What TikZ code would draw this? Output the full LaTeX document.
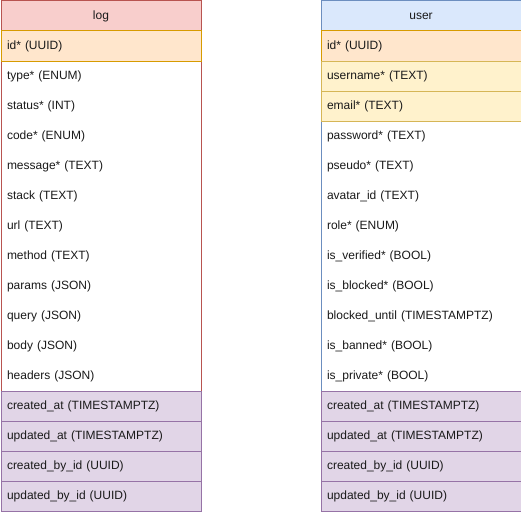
\documentclass[tikz,border=0pt]{standalone}
\usepackage{fontspec}
\setmainfont{Liberation Sans}
\definecolor{redF}{HTML}{F8CECC}\definecolor{redS}{HTML}{B85450}
\definecolor{orgF}{HTML}{FFE6CC}\definecolor{orgS}{HTML}{D79B00}
\definecolor{bluF}{HTML}{DAE8FC}\definecolor{bluS}{HTML}{6C8EBF}
\definecolor{yelF}{HTML}{FFF2CC}\definecolor{yelS}{HTML}{D6B656}
\definecolor{purF}{HTML}{E1D5E7}\definecolor{purS}{HTML}{9673A6}
\definecolor{txt}{HTML}{1A1A1A}
\begin{document}
\begin{tikzpicture}[x=1pt,y=-1pt,
  rowbox/.style={rectangle, anchor=north west, text width=188pt, inner xsep=6pt, inner ysep=0pt,
    minimum height=30pt, align=left, font=\fontsize{12}{14}\selectfont, text=txt, line width=1pt},
  hdrbox/.style={rowbox, align=center},
  frame/.style={rectangle, anchor=north west, minimum width=200pt, minimum height=510pt, inner sep=0pt, line width=1pt, fill=white},
  plain/.style={rowbox},
  orgrow/.style={rowbox, draw=orgS, fill=orgF},
  yelrow/.style={rowbox, draw=yelS, fill=yelF},
  purrow/.style={rowbox, draw=purS, fill=purF}]
\useasboundingbox (0,0) rectangle (521,511);
% ---- log table ----
\node[frame, draw=redS] (logT) at (0.5,0.5) {};
\node[hdrbox, draw=redS, fill=redF] (logH) at (0.5,0.5) {log};
\node[orgrow] (log1) at (0.5,30.5) {id* (UUID)};
\foreach \t [count=\i from 2] in {type* (ENUM), status* (INT), code* (ENUM), message* (TEXT), stack (TEXT), url (TEXT), method (TEXT), params (JSON), query (JSON), body (JSON), headers (JSON)}
  \node[plain] (log\i) at (0.5,{0.5+30*\i}) {\t};
\foreach \t [count=\i from 13] in {created\_at (TIMESTAMPTZ), updated\_at (TIMESTAMPTZ), created\_by\_id (UUID), updated\_by\_id (UUID)}
  \node[purrow] (log\i) at (0.5,{0.5+30*\i}) {\t};
% ---- user table ----
\node[frame, draw=bluS] (userT) at (320.5,0.5) {};
\node[hdrbox, draw=bluS, fill=bluF] (userH) at (320.5,0.5) {user};
\node[orgrow] (user1) at (320.5,30.5) {id* (UUID)};
\foreach \t [count=\i from 2] in {username* (TEXT), email* (TEXT)}
  \node[yelrow] (user\i) at (320.5,{0.5+30*\i}) {\t};
\foreach \t [count=\i from 4] in {password* (TEXT), pseudo* (TEXT), avatar\_id (TEXT), role* (ENUM), is\_verified* (BOOL), is\_blocked* (BOOL), blocked\_until (TIMESTAMPTZ), is\_banned* (BOOL), is\_private* (BOOL)}
  \node[plain] (user\i) at (320.5,{0.5+30*\i}) {\t};
\foreach \t [count=\i from 13] in {created\_at (TIMESTAMPTZ), updated\_at (TIMESTAMPTZ), created\_by\_id (UUID), updated\_by\_id (UUID)}
  \node[purrow] (user\i) at (320.5,{0.5+30*\i}) {\t};
\end{tikzpicture}
\end{document}
